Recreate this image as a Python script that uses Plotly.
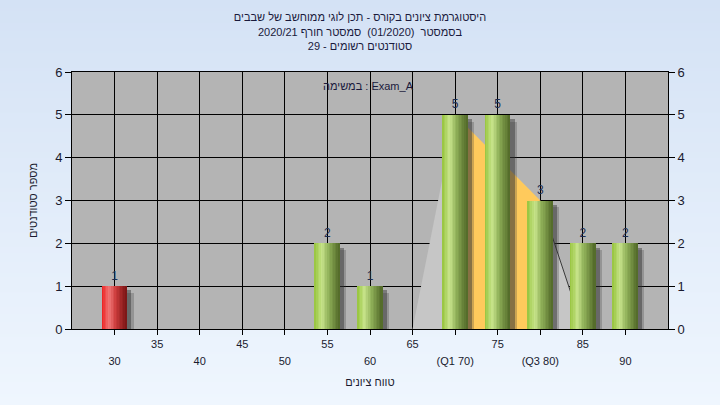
import base64, struct, zlib
import plotly.graph_objects as go

# ---------------- data ----------------
grades = [30, 55, 60, 70, 75, 80, 85, 90]
counts = [1, 2, 1, 5, 5, 3, 2, 2]
tick_vals = [30, 35, 40, 45, 50, 55, 60, 65, 70, 75, 80, 85, 90]
lower_labels = ["30", "", "40", "", "50", "", "60", "", "(Q1 70)", "", "(Q3 80)", "", "90"]
upper_labels = ["", "35", "", "45", "", "55", "", "65", "", "75", "", "85", ""]
pass_grade = 55
# quartile band: min-side, Q1, Q3, max-side
band_x = [65, 70, 80, 85]
band_y = [0, 5, 3, 0]

title_lines = [
    "היסטוגרמת ציונים בקורס - תכן לוגי ממוחשב של שבבים",
    "בסמסטר  (01/2020)  סמסטר חורף 2020/21",
    "סטודנטים רשומים - 29",
]
exam_label = "במשימה : Exam_A"
x_title = "טווח ציונים"
y_title = "מספר סטודנטים"

FONT = "Liberation Sans, Arial, DejaVu Sans, sans-serif"
W, H = 720, 405
L, R, T, B = 72, 52, 72, 76

# ---------------- background gradient png ----------------
def png_gradient(h, top, bot):
    raw = b""
    for i in range(h):
        t = i / (h - 1)
        c = bytes(int(round(top[k] + (bot[k] - top[k]) * t)) for k in range(3))
        raw += b"\x00" + c
    def chunk(tag, data):
        return struct.pack(">I", len(data)) + tag + data + struct.pack(">I", zlib.crc32(tag + data) & 0xffffffff)
    png = b"\x89PNG\r\n\x1a\n" + chunk(b"IHDR", struct.pack(">IIBBBBB", 1, h, 8, 2, 0, 0, 0))
    png += chunk(b"IDAT", zlib.compress(raw)) + chunk(b"IEND", b"")
    return "data:image/png;base64," + base64.b64encode(png).decode()

bg_src = png_gradient(H, (212, 226, 245), (239, 246, 254))

pw, ph = W - L - R, H - T - B

fig = go.Figure()

# ---------------- band polygons (base subplot, below the bars) ----------------
fig.add_trace(go.Scatter(
    x=[band_x[0], band_x[1], band_x[1], band_x[0]], y=[band_y[0], band_y[1], 0, 0],
    fill="toself", fillcolor="#c6c6c6", line=dict(width=0), mode="lines",
    hoverinfo="skip", showlegend=False))
fig.add_trace(go.Scatter(
    x=[band_x[2], band_x[2], band_x[3], band_x[2]], y=[0, band_y[2], band_y[3], 0],
    fill="toself", fillcolor="#c6c6c6", line=dict(width=0), mode="lines",
    hoverinfo="skip", showlegend=False))
fig.add_trace(go.Scatter(
    x=[band_x[1], band_x[1], band_x[2], band_x[2], band_x[1]],
    y=[0, band_y[1], band_y[2], 0, 0],
    fill="toself", fillcolor="#ffca5c", line=dict(width=0), mode="lines",
    hoverinfo="skip", showlegend=False))
fig.add_trace(go.Scatter(
    x=[band_x[2], band_x[3]], y=[band_y[2], band_y[3]],
    mode="lines", line=dict(color="#3a3a3a", width=1),
    hoverinfo="skip", showlegend=False))

# ---------------- bars (cylinder shading) on overlay subplot ----------------
bw = 2.95
for dx, dy, a in [(0.75, 0.16, 0.25), (0.5, 0.1, 0.45)]:
    fig.add_trace(go.Bar(
        x=grades, y=[c - dy for c in counts], width=bw, offset=-bw / 2 + dx,
        xaxis="x2", yaxis="y2",
        marker=dict(color=f"rgba(50,50,50,{a})", line=dict(width=0)),
        hoverinfo="skip", showlegend=False))

green_stops = [(0.0, (150, 196, 60)), (0.3, (200, 228, 140)), (0.55, (145, 178, 90)),
               (1.0, (80, 104, 40))]
red_stops = [(0.0, (235, 30, 30)), (0.3, (240, 120, 120)), (0.55, (205, 60, 60)),
             (1.0, (120, 20, 20))]

def interp(stops, t):
    for (t0, c0), (t1, c1) in zip(stops, stops[1:]):
        if t <= t1:
            f = (t - t0) / (t1 - t0)
            return "rgb(%d,%d,%d)" % tuple(round(c0[k] + (c1[k] - c0[k]) * f) for k in range(3))
    return "rgb(%d,%d,%d)" % stops[-1][1]

N = 16
sw = bw / N
for i in range(N):
    t = (i + 0.5) / N
    cols = [interp(red_stops if g < pass_grade else green_stops, t) for g in grades]
    fig.add_trace(go.Bar(
        x=grades, y=counts, width=sw * 1.08, offset=-bw / 2 + i * sw,
        xaxis="x2", yaxis="y2",
        marker=dict(color=cols, line=dict(width=0)),
        hoverinfo="skip", showlegend=False))

# value labels
fig.add_trace(go.Scatter(
    x=grades, y=counts, mode="markers+text", text=[str(c) for c in counts],
    xaxis="x2", yaxis="y2",
    marker=dict(size=4, opacity=0),
    textposition="top center", textfont=dict(family=FONT, size=12, color="#1c2c50"),
    cliponaxis=False, hoverinfo="skip", showlegend=False))

fig.update_layout(
    width=W, height=H,
    margin=dict(l=L, r=R, t=T, b=B),
    paper_bgcolor="#e4edf9",
    plot_bgcolor="#b4b4b4",
    barmode="overlay",
    bargap=0,
    font=dict(family=FONT, color="#1a1a2e"),
    title=dict(text="<br>".join(title_lines), x=0.5, xanchor="center", y=0.947, yanchor="top",
               font=dict(family=FONT, size=11, color="#1a1a3c")),
    xaxis=dict(range=[25, 95], tickvals=tick_vals, ticktext=lower_labels,
               showgrid=True, gridcolor="black", gridwidth=1,
               ticks="outside", ticklen=5, tickcolor="black",
               showline=True, linecolor="black", mirror=True, zeroline=False,
               tickfont=dict(size=11, color="#1a1a2e"), ticklabelstandoff=17,
               title=dict(text=x_title, font=dict(size=11, color="#1a1a2e"), standoff=12)),
    xaxis2=dict(range=[25, 95], tickvals=tick_vals, ticktext=upper_labels,
                overlaying="x", side="bottom", anchor="y2", showgrid=False, ticks="",
                showline=False, zeroline=False, ticklabelstandoff=7,
                tickfont=dict(size=11, color="#1a1a2e")),
    yaxis=dict(range=[0, 6], dtick=1, showgrid=True, gridcolor="black", gridwidth=1,
               ticks="outside", ticklen=6, tickcolor="black",
               showline=True, linecolor="black", mirror=True, zeroline=False,
               tickfont=dict(size=13, color="#1a1a2e"),
               title=dict(text=y_title, font=dict(size=11, color="#1a1a2e"), standoff=15)),
    yaxis2=dict(range=[0, 6], dtick=1, overlaying="y", side="right", anchor="x2",
                showgrid=False, ticks="outside", ticklen=6, tickcolor="black",
                showline=True, linecolor="black", zeroline=False,
                tickfont=dict(size=13, color="#1a1a2e")),
    images=[dict(source=bg_src, xref="paper", yref="paper",
                 x=-L / pw, y=1 + T / ph, sizex=W / pw, sizey=H / ph,
                 xanchor="left", yanchor="top", sizing="stretch", layer="below")],
    shapes=[dict(type="rect", xref="paper", yref="paper", x0=0, x1=1, y0=0, y1=1,
                 fillcolor="#b4b4b4", line=dict(width=0), layer="below")],
    annotations=[dict(text=exam_label, xref="paper", yref="paper",
                      x=(368 - L) / pw, y=1 - (86 - T) / ph, showarrow=False,
                      xanchor="center", yanchor="middle",
                      font=dict(family=FONT, size=11, color="#1a1a3c"))],
)

fig.write_html("out.html", config={"displayModeBar": False},
               post_script="document.body.style.margin='0';")
